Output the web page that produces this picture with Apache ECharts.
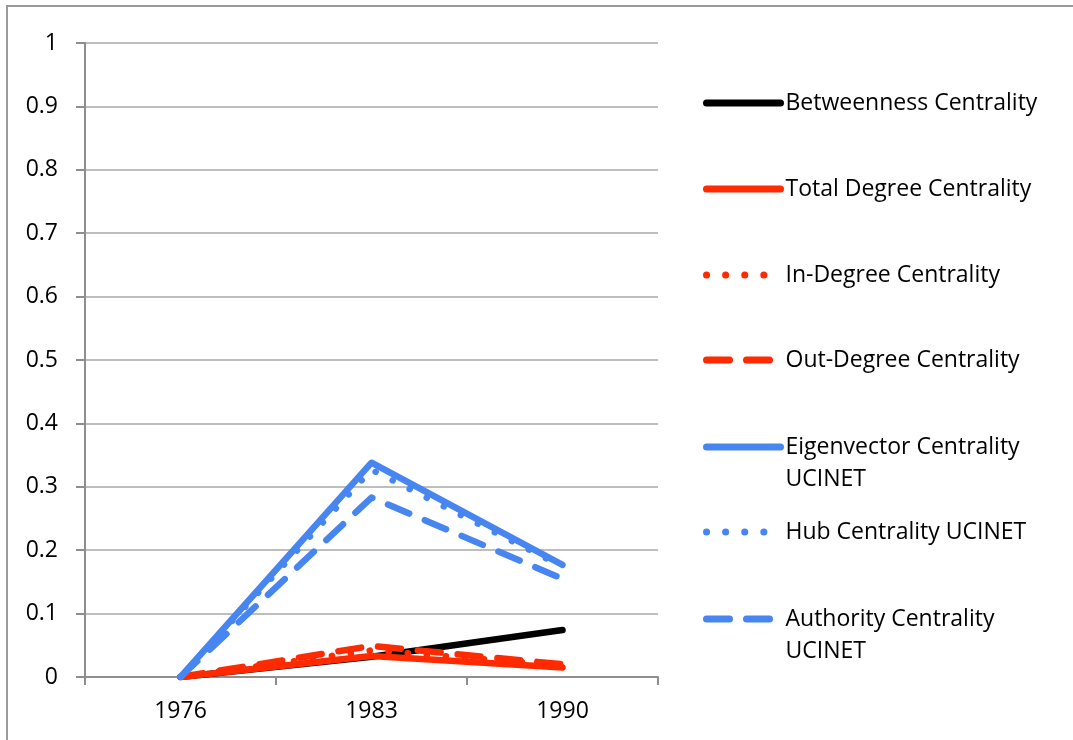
<!DOCTYPE html>
<html>
<head>
<meta charset="utf-8">
<script src="https://cdn.jsdelivr.net/npm/echarts@6/dist/echarts.min.js"></script>
<style>
  html, body { margin: 0; padding: 0; background: #fff; }
  #chart { width: 1073px; height: 740px; }
</style>
</head>
<body>
<div id="chart"></div>
<script>
// categories (years)
const years = ['1976', '1983', '1990'];

// series values
const betweenness = [0, 0.032, 0.074];
const totalDegree = [0, 0.033, 0.015];
const inDegree = [0, 0.042, 0.018];
const outDegree = [0, 0.049, 0.02];
const eigenvector = [0, 0.338, 0.177];
const hub = [0, 0.327, 0.174];
const authority = [0, 0.283, 0.155];

const seriesNames = [
  'Betweenness Centrality',
  'Total Degree Centrality',
  'In-Degree Centrality',
  'Out-Degree Centrality',
  'Eigenvector Centrality\nUCINET',
  'Hub Centrality UCINET',
  'Authority Centrality\nUCINET'
];
const seriesData = [betweenness, totalDegree, inDegree, outDegree, eigenvector, hub, authority];

const yTicks = [0, 0.1, 0.2, 0.3, 0.4, 0.5, 0.6, 0.7, 0.8, 0.9, 1];

const BLACK = '#000000';
const RED = '#ff2a00';
const BLUE = '#4785f0';
const DOT = [0.1, 19];
const DASH = [23, 17];

const styles = [
  { color: BLACK, type: 'solid' },
  { color: RED, type: 'solid' },
  { color: RED, type: DOT },
  { color: RED, type: DASH },
  { color: BLUE, type: 'solid' },
  { color: BLUE, type: DOT },
  { color: BLUE, type: DASH }
];

// vertical spot of each legend row (icon centre), first line for wrapped names
const legendCentres = [103, 189, 275, 360, 447, 532, 619];

const chart = echarts.init(document.getElementById('chart'), null, { renderer: 'canvas' });

const font = 'Open Sans';
const LINE_W = 6.5;

// one legend per row so the rows can sit where the reference has them
const legends = seriesNames.map((name, i) => {
  const twoLines = name.indexOf('\n') >= 0;
  return {
    data: [name],
    orient: 'vertical',
    left: 703,
    top: legendCentres[i] - (twoLines ? 48 : 16),
    padding: 0,
    itemWidth: 74,
    itemHeight: 14,
    selectedMode: false,
    // blank first line keeps the icon level with the first text line
    formatter: twoLines ? '\n{name}' : '{name}',
    itemStyle: { opacity: 0 },
    lineStyle: {
      color: styles[i].color,
      width: 7,
      type: styles[i].type,
      cap: 'round'
    },
    textStyle: {
      fontFamily: font,
      fontSize: 23,
      color: '#000',
      lineHeight: 32
    }
  };
});

const option = {
  animation: false,
  backgroundColor: '#fff',
  graphic: [
    {
      type: 'rect',
      shape: { x: 7, y: 6, width: 1200, height: 900 },
      style: { fill: 'none', stroke: '#9a9a9a', lineWidth: 2 },
      silent: true
    }
  ],
  legend: legends,
  grid: {
    left: 85,
    right: 415,
    top: 43,
    bottom: 63,
    containLabel: false
  },
  xAxis: {
    type: 'category',
    data: years,
    boundaryGap: true,
    axisLine: { show: true, lineStyle: { color: '#8e8e8e', width: 2 } },
    axisTick: { show: true, length: 8, lineStyle: { color: '#8e8e8e', width: 2 } },
    axisLabel: { color: '#000', fontFamily: font, fontSize: 23, margin: 23 },
    splitLine: { show: false }
  },
  yAxis: {
    type: 'value',
    min: 0,
    max: 1,
    interval: 0.1,
    axisLine: { show: true, lineStyle: { color: '#8e8e8e', width: 2 } },
    axisTick: { show: true, length: 9, lineStyle: { color: '#8e8e8e', width: 2 } },
    axisLabel: {
      color: '#000',
      fontFamily: font,
      fontSize: 23,
      margin: 27,
      formatter: (v) => {
        const t = yTicks.find(k => Math.abs(k - v) < 1e-6);
        return String(t !== undefined ? t : Math.round(v * 10) / 10);
      }
    },
    splitLine: { show: true, lineStyle: { color: '#a8a8a8', width: 1.5 } }
  },
  series: seriesNames.map((name, i) => ({
    name: name,
    type: 'line',
    data: seriesData[i],
    symbol: 'none',
    smooth: false,
    itemStyle: { color: styles[i].color },
    lineStyle: {
      color: styles[i].color,
      width: LINE_W,
      type: styles[i].type,
      cap: 'round',
      join: 'round'
    }
  }))
};

chart.setOption(option);
window.addEventListener('resize', () => chart.resize());
</script>
</body>
</html>
